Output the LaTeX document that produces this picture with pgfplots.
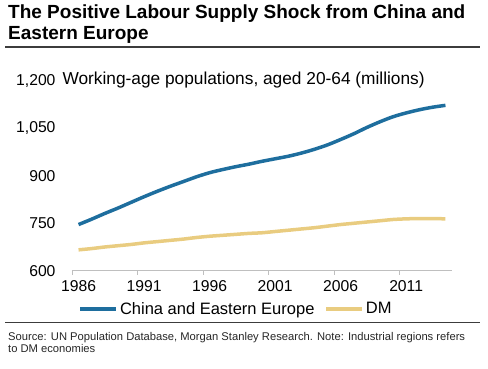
\documentclass[border=0pt]{standalone}
\usepackage{pgfplots}
\pgfplotsset{compat=1.18}
\usepackage{fontspec}
\setmainfont{Liberation Sans}
\definecolor{cblue}{RGB}{30,110,158}
\definecolor{cgold}{RGB}{233,204,128}
\definecolor{rulec}{RGB}{60,60,60}
\begin{document}
\begin{tikzpicture}
\path[use as bounding box] (0pt,0pt) rectangle (488pt,-368pt);
\node[anchor=base west,inner sep=0pt,font=\fontsize{19}{21}\selectfont\bfseries] at (8pt,-18.3pt) {The Positive Labour Supply Shock from China and};
\node[anchor=base west,inner sep=0pt,font=\fontsize{19}{21}\selectfont\bfseries] at (8pt,-39.3pt) {Eastern Europe};
\draw[line width=1.4pt,rulec] (5pt,-47pt) -- (480pt,-47pt);
\begin{axis}[
  at={(72pt,-270.7pt)}, anchor=south west,
  scale only axis, width=380pt, height=189.7pt,
  xmin=1985.5, xmax=2014.5, ymin=600, ymax=1200,
  axis x line=bottom, axis y line=left,
  x axis line style={draw=black!25,line width=0.8pt,-},
  y axis line style={draw=none,-},
  xtick={1986,1991,1996,2001,2006,2011},
  xticklabels={1986,1991,1996,2001,2006,2011},
  minor xtick={1985.5,1990.5,1995.5,2000.5,2005.5,2010.5},
  ytick={600,750,900,1050,1200},
  yticklabels={600,750,900,{1,050},{1,200}},
  major tick length=0pt, minor tick length=4pt,
  tick align=outside,
  minor tick style={draw=black!25,line width=0.8pt},
  tick label style={font=\fontsize{15.7}{18}\selectfont},
  yticklabel style={anchor=east,xshift=-13pt},
  xticklabel style={anchor=north,yshift=-6pt},
  legend columns=2,
  legend style={draw=none,fill=none,at={(0.0166,-0.202)},anchor=west,
    font=\fontsize{16.5}{18}\selectfont,
    /tikz/every even column/.append style={column sep=8pt},
    inner sep=0pt},
  legend image code/.code={\draw[#1] (0pt,0pt) -- (36pt,0pt);},
  clip=false,
]
\addplot[cblue,line width=3.5pt,smooth] coordinates {
(1986,746)(1987,763)(1988,781)(1989,798)(1990,816)(1991,834)(1992,851)(1993,867)
(1994,882)(1995,897)(1996,910)(1997,920)(1998,929)(1999,937)(2000,946)(2001,954)
(2002,962)(2003,972)(2004,984)(2005,998)(2006,1015)(2007,1033)(2008,1053)(2009,1071)
(2010,1087)(2011,1099)(2012,1109)(2013,1117)(2014,1123)};
\addlegendentry{China and Eastern Europe}
\addplot[cgold,line width=3.5pt,smooth] coordinates {
(1986,666)(1987,670)(1988,675)(1989,679)(1990,683)(1991,688)(1992,692)(1993,696)
(1994,700)(1995,705)(1996,709)(1997,712)(1998,715)(1999,718)(2000,720)(2001,724)
(2002,728)(2003,732)(2004,736)(2005,741)(2006,746)(2007,750)(2008,754)(2009,758)
(2010,762)(2011,764)(2012,765)(2013,765)(2014,764)};
\addlegendentry{DM}
\end{axis}
\node[anchor=base west,inner sep=0pt,font=\fontsize{17.3}{20}\selectfont] at (62.3pt,-84pt) {Working-age populations, aged 20-64 (millions)};
\draw[line width=1.4pt,rulec] (5pt,-322.7pt) -- (480pt,-322.7pt);
\node[anchor=base west,inner sep=0pt,font=\fontsize{11.2}{13}\selectfont,text=black!85] at (8pt,-340pt) {Source: UN Population Database, Morgan Stanley Research. Note: Industrial regions refers};
\node[anchor=base west,inner sep=0pt,font=\fontsize{11.2}{13}\selectfont,text=black!85] at (8pt,-352.7pt) {to DM economies};
\end{tikzpicture}
\end{document}
